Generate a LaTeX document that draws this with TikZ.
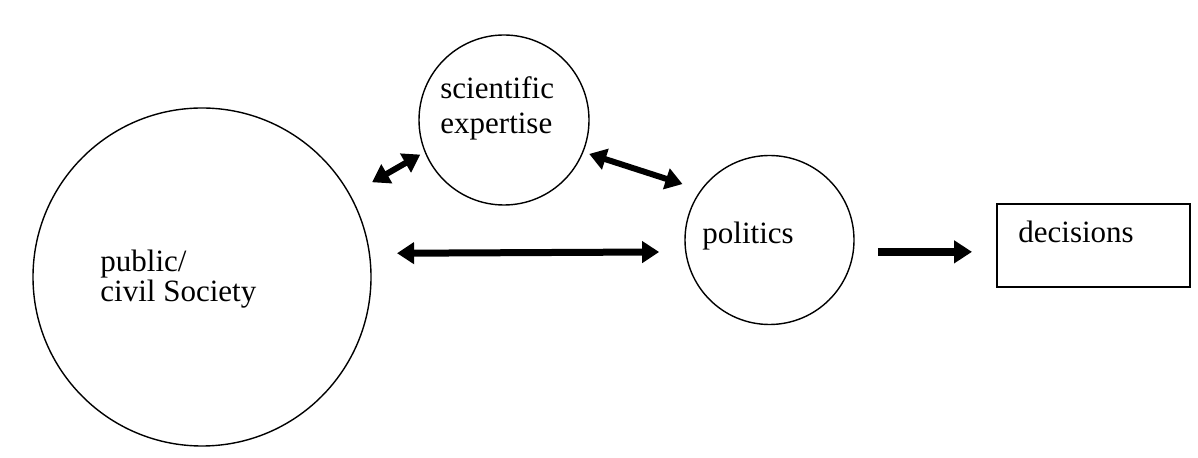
\documentclass[tikz,border=0pt]{standalone}
\usepackage{fontspec}
\setmainfont{Liberation Serif}
\usetikzlibrary{positioning,arrows.meta}

\begin{document}
\begin{tikzpicture}[x=0.5pt, y=-0.5pt,
    every node/.style = {inner sep=0pt, font=\fontsize{15.5}{15}\selectfont},
    ring/.style = {draw, circle, line width=0.7pt, minimum size=#1},
    box/.style = {draw, rectangle, line width=1pt, minimum width=96.5pt, minimum height=41.5pt},
    dbl/.style = {{Triangle[length=8.5pt,width=10.5pt]}-{Triangle[length=8.5pt,width=10.5pt]}, line width=3pt},
    sgl/.style = {-{Triangle[length=9pt,width=11pt]}, line width=4pt}
    ]
    \useasboundingbox (0,0) rectangle (1198,458);
    \node[ring=169pt] (pub) at (202,277) {};
    \node[ring=85pt] (sci) at (504,120) {};
    \node[ring=84.5pt] (pol) at (769.5,240) {};
    \node[box] (dec) at (1093.5,245.5) {};
    \node[anchor=base west, align=left] (pub-t) at (100,302) {public/\\civil Society};
    \node[anchor=base west, align=left, font=\fontsize{15.5}{17.5}\selectfont] (sci-t) at (440,134) {scientific\\expertise};
    \node[anchor=base west] (pol-t) at (702,244) {politics};
    \node[anchor=base west] (dec-t) at (1018,243) {decisions};
    \draw[dbl, shorten <=12.5pt, shorten >=2.5pt] (pub.29.3) -- (sci.202.9);
    \draw[dbl, shorten <=3pt, shorten >=9.5pt] (sci.-22.6) -- (pol.144.6);
    \draw[dbl, line width=3.5pt, shorten <=13.5pt, shorten >=13pt] (pub.8.5) -- (pol.188.2);
    \draw[sgl, shorten <=12pt, shorten >=12pt] (pol.-8.7) -- (pol.-8.7 -| dec.west);
\end{tikzpicture}
\end{document}
